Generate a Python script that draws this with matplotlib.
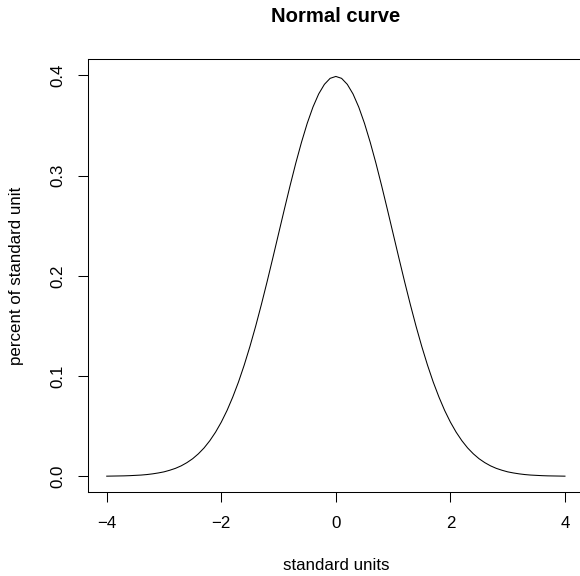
import matplotlib
matplotlib.use('Agg')
import matplotlib.pyplot as plt
import numpy as np

plt.rcParams['font.family'] = ['Liberation Sans', 'DejaVu Sans']

# standard units sampled every 0.1 from -4 to 4
x_units = np.linspace(-4, 4, 81)
# curve heights, for 0.0, 0.1, ..., 4.0 (curve is symmetric)
half_heights = [0.3989, 0.3970, 0.3910, 0.3814, 0.3683, 0.3521, 0.3332, 0.3123,
                0.2897, 0.2661, 0.2420, 0.2179, 0.1942, 0.1714, 0.1497, 0.1295,
                0.1109, 0.0940, 0.0790, 0.0656, 0.0540, 0.0440, 0.0355, 0.0283,
                0.0224, 0.0175, 0.0136, 0.0104, 0.0079, 0.0060, 0.0044, 0.0033,
                0.0024, 0.0017, 0.0012, 0.0009, 0.0006, 0.0004, 0.0003, 0.0002,
                0.0001]
heights = half_heights[:0:-1] + half_heights

x_ticks = [-4, -2, 0, 2, 4]
y_ticks = [0.0, 0.1, 0.2, 0.3, 0.4]

W, H = 580, 576
# plot region in pixels (the right edge runs a little past the image)
L, R, T, B = 88.4, 583.3, 59.3, 492.3
fig = plt.figure(figsize=(W / 100, H / 100), dpi=100)
ax = fig.add_axes([L / W, 1 - B / H, (R - L) / W, (B - T) / H])

ax.plot(x_units, heights, color='black', lw=0.75)
ax.set_xlim(-4.32, 4.32)
ax.set_ylim(-0.016, 0.416)

ax.set_xticks(x_ticks)
ax.set_xticklabels([str(t).replace('-', '\u2212') for t in x_ticks])
ax.set_yticks(y_ticks)
ax.set_yticklabels([f'{t:.1f}' for t in y_ticks], rotation=90, va='center')
ax.tick_params(direction='out', length=7.5, width=0.75, labelsize=12.2, color='black')
ax.tick_params(axis='x', pad=9.5)
ax.tick_params(axis='y', pad=9)
for s in ax.spines.values():
    s.set_linewidth(0.75)

ax.set_xlabel('standard units', fontsize=12.2)
ax.xaxis.label.set_va('center')
ax.xaxis.set_label_coords(0.5 * (L + R) / W, 1 - 566 / H, transform=fig.transFigure)
ax.set_ylabel('percent of standard unit', fontsize=12.2)
ax.yaxis.label.set_va('center')
ax.yaxis.set_label_coords(17 / W, 1 - 0.5 * (T + B) / H, transform=fig.transFigure)

fig.text(0.5 * (L + R) / W, 1 - 17 / H, 'Normal curve', ha='center', va='center',
         fontsize=14.6, fontweight='bold')

fig.savefig('out.png', dpi=100)
